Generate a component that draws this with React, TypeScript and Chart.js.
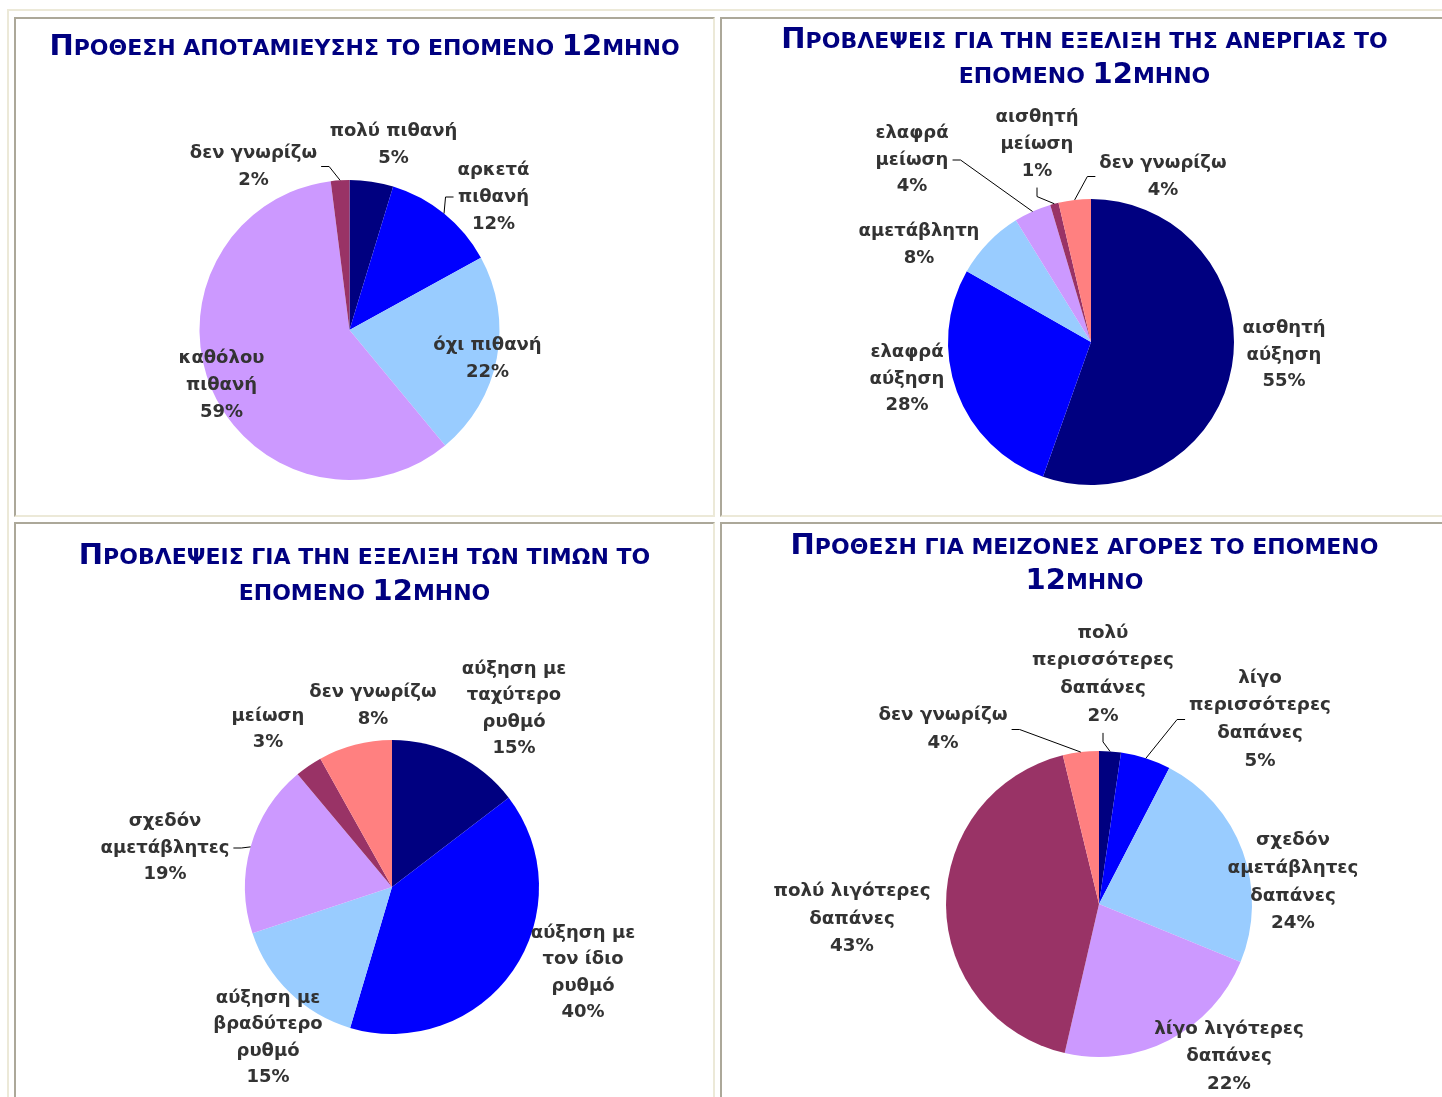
import React, { useEffect, useRef } from 'react';
import { Chart, registerables } from 'chart.js';

Chart.register(...registerables);

// ---------- palette ----------
const NAVY = '#000080';
const BLUE = '#0000FF';
const LIGHT_BLUE = '#99CCFF';
const LAVENDER = '#CC99FF';
const PLUM = '#993366';
const SALMON = '#FF8080';

// ---------- chart 1: saving intention ----------
const savingTitle = ['Προθεση αποταμιευσης το επομενο 12μηνο'];
const savingCategories = [['πολύ πιθανή'], ['αρκετά', 'πιθανή'], ['όχι πιθανή'], ['καθόλου', 'πιθανή'], ['δεν γνωρίζω']];
const savingValues = [4.7, 12.3, 22, 59, 2];
const savingColors = [NAVY, BLUE, LIGHT_BLUE, LAVENDER, PLUM];

// ---------- chart 2: unemployment ----------
const unemploymentTitle = ['Προβλεψεις για την εξελιξη της ανεργιας το', 'επομενο 12μηνο'];
const unemploymentCategories = [['αισθητή', 'αύξηση'], ['ελαφρά', 'αύξηση'], ['αμετάβλητη'], ['ελαφρά', 'μείωση'], ['αισθητή', 'μείωση'], ['δεν γνωρίζω']];
const unemploymentValues = [55.45, 27.8, 7.95, 4.2, 0.95, 3.65];
const unemploymentColors = [NAVY, BLUE, LIGHT_BLUE, LAVENDER, PLUM, SALMON];

// ---------- chart 3: prices ----------
const pricesTitle = ['Προβλεψεις για την εξελιξη των τιμων το', 'επομενο 12μηνο'];
const pricesCategories = [['αύξηση με', 'ταχύτερο', 'ρυθμό'], ['αύξηση με', 'τον ίδιο', 'ρυθμό'], ['αύξηση με', 'βραδύτερο', 'ρυθμό'], ['σχεδόν', 'αμετάβλητες'], ['μείωση'], ['δεν γνωρίζω']];
const pricesValues = [14.6, 40, 15.3, 19, 3, 8.1];
const pricesColors = [NAVY, BLUE, LIGHT_BLUE, LAVENDER, PLUM, SALMON];

// ---------- chart 4: major purchases ----------
const purchasesTitle = ['Προθεση για μειζονες αγορες το επομενο', '12μηνο'];
const purchasesCategories = [['πολύ', 'περισσότερες', 'δαπάνες'], ['λίγο', 'περισσότερες', 'δαπάνες'], ['σχεδόν', 'αμετάβλητες', 'δαπάνες'], ['λίγο λιγότερες', 'δαπάνες'], ['πολύ λιγότερες', 'δαπάνες'], ['δεν γνωρίζω']];
const purchasesValues = [2.3, 5.3, 23.6, 22.4, 42.6, 3.8];
const purchasesColors = [NAVY, BLUE, LIGHT_BLUE, LAVENDER, PLUM, SALMON];

// ---------- layout (page coordinates) ----------
type Spec = {
  panel: { x: number; y: number; w: number; h: number };
  title: string[];
  titleBaselines: number[];
  center: [number, number];
  radius: number;
  categories: string[][];
  values: number[];
  colors: string[];
  labelOffsets: [number, number][];
  leaders: boolean[];
  labelFont: number;
  lineHeight: number;
};

const SPECS: Spec[] = [
  {
    panel: { x: 14, y: 17, w: 701, h: 500 },
    title: savingTitle,
    titleBaselines: [55],
    center: [349.5, 330],
    radius: 150,
    categories: savingCategories,
    values: savingValues,
    colors: savingColors,
    labelOffsets: [[44, -185.5], [144, -133], [138, 28.5], [-128, 55], [-96, -163.5]],
    leaders: [false, true, false, false, true],
    labelFont: 18,
    lineHeight: 27,
  },
  {
    panel: { x: 720, y: 17, w: 729, h: 500 },
    title: unemploymentTitle,
    titleBaselines: [48, 83],
    center: [1091, 342],
    radius: 143,
    categories: unemploymentCategories,
    values: unemploymentValues,
    colors: unemploymentColors,
    labelOffsets: [[193, 13], [-184, 37], [-172, -97], [-179, -182], [-54, -197.5], [72, -165.5]],
    leaders: [false, false, false, true, true, true],
    labelFont: 18,
    lineHeight: 26.7,
  },
  {
    panel: { x: 14, y: 522, w: 701, h: 600 },
    title: pricesTitle,
    titleBaselines: [564, 600],
    center: [392, 887],
    radius: 147,
    categories: pricesCategories,
    values: pricesValues,
    colors: pricesColors,
    labelOffsets: [[122, -178], [191, 86], [-124, 151], [-227, -39], [-124, -157.5], [-19, -181]],
    leaders: [false, false, false, true, false, false],
    labelFont: 18,
    lineHeight: 26.5,
  },
  {
    panel: { x: 720, y: 522, w: 729, h: 600 },
    title: purchasesTitle,
    titleBaselines: [554, 589],
    center: [1099, 904],
    radius: 153,
    categories: purchasesCategories,
    values: purchasesValues,
    colors: purchasesColors,
    labelOffsets: [[4, -229.5], [161, -184.5], [194, -22], [130, 152.5], [-247, 15], [-156, -174.5]],
    leaders: [true, true, false, false, false, true],
    labelFont: 18.3,
    lineHeight: 27.7,
  },
];

const FONT = '"DejaVu Sans", Verdana, sans-serif';
const TITLE_BIG = 29;
const TITLE_SMALL = 22;

function makeTitlePlugin(spec: Spec) {
  return {
    id: 'capsTitle',
    afterDraw(chart: any) {
      const ctx: CanvasRenderingContext2D = chart.ctx;
      const centerX = chart.width / 2;
      ctx.save();
      ctx.fillStyle = NAVY;
      ctx.textBaseline = 'alphabetic';
      ctx.textAlign = 'left';
      spec.title.forEach((line, li) => {
        const runs: { text: string; big: boolean }[] = [];
        for (const ch of line) {
          const big = /[0-9]/.test(ch) || ch !== ch.toLowerCase();
          const t = ch.toUpperCase();
          const last = runs[runs.length - 1];
          if (last && last.big === big) last.text += t;
          else runs.push({ text: t, big });
        }
        const fontOf = (big: boolean) => `bold ${big ? TITLE_BIG : TITLE_SMALL}px ${FONT}`;
        let total = 0;
        const widths = runs.map((r) => {
          ctx.font = fontOf(r.big);
          const w = ctx.measureText(r.text).width;
          total += w;
          return w;
        });
        let x = centerX - total / 2;
        const y = spec.titleBaselines[li] - spec.panel.y;
        runs.forEach((r, k) => {
          ctx.font = fontOf(r.big);
          ctx.fillText(r.text, x, y);
          x += widths[k];
        });
      });
      ctx.restore();
    },
  };
}

function makeLabelPlugin(spec: Spec) {
  return {
    id: 'sliceLabels',
    afterDatasetsDraw(chart: any) {
      const ctx: CanvasRenderingContext2D = chart.ctx;
      const meta = chart.getDatasetMeta(0);
      const data: number[] = chart.data.datasets[0].data;
      const total = data.reduce((a, b) => a + b, 0);
      ctx.save();
      ctx.font = `bold ${spec.labelFont}px ${FONT}`;
      ctx.textAlign = 'center';
      ctx.textBaseline = 'middle';
      const lh = spec.lineHeight;
      meta.data.forEach((arc: any, i: number) => {
        const p = arc.getProps(['x', 'y', 'startAngle', 'endAngle', 'outerRadius'], true);
        const lines = [...(chart.data.labels[i] as string[]), `${Math.round((data[i] / total) * 100)}%`];
        const [ox, oy] = spec.labelOffsets[i];
        const cx = p.x + ox;
        const cy = p.y + oy;
        const h = lines.length * lh;
        const w = Math.max(...lines.map((l) => ctx.measureText(l).width));
        ctx.fillStyle = '#333333';
        lines.forEach((l, k) => ctx.fillText(l, cx, cy - h / 2 + lh * (k + 0.5)));
        if (spec.leaders[i]) {
          const mid = (p.startAngle + p.endAngle) / 2;
          const px = p.x + Math.cos(mid) * p.outerRadius;
          const py = p.y + Math.sin(mid) * p.outerRadius;
          const left = cx - w / 2;
          const right = cx + w / 2;
          const bottom = cy + h / 2;
          let s: [number, number];
          let e: [number, number];
          if (px > left && px < right && py > bottom) {
            s = [cx, bottom + 3];
            e = [cx, Math.min(bottom + 12, py)];
          } else if (px >= right) {
            s = [right + 4, cy];
            e = [right + 12, cy];
          } else {
            s = [left - 4, cy];
            e = [left - 12, cy];
          }
          ctx.strokeStyle = '#000000';
          ctx.lineWidth = 1;
          ctx.beginPath();
          ctx.moveTo(s[0], s[1]);
          ctx.lineTo(e[0], e[1]);
          ctx.lineTo(px, py);
          ctx.stroke();
        }
      });
      ctx.restore();
    },
  };
}

function PiePanel({ spec }: { spec: Spec }) {
  const ref = useRef<HTMLCanvasElement>(null);
  const { panel } = spec;
  useEffect(() => {
    const canvas = ref.current;
    if (!canvas) return;
    const cx = spec.center[0] - panel.x;
    const cy = spec.center[1] - panel.y;
    const r = spec.radius;
    const chart = new Chart(canvas, {
      type: 'pie',
      data: {
        labels: spec.categories as any,
        datasets: [
          {
            data: spec.values,
            backgroundColor: spec.colors,
            borderWidth: 0,
            hoverOffset: 0,
            offset: 0,
            radius: r,
          } as any,
        ],
      },
      options: {
        responsive: false,
        animation: false,
        devicePixelRatio: 1,
        events: [],
        layout: {
          padding: {
            left: cx - r,
            top: cy - r,
            right: panel.w - cx - r,
            bottom: panel.h - cy - r,
          },
        },
        plugins: {
          legend: { display: false },
          tooltip: { enabled: false },
          title: { display: false },
        },
      } as any,
      plugins: [makeTitlePlugin(spec), makeLabelPlugin(spec)] as any,
    });
    return () => chart.destroy();
  }, [spec]);

  return (
    <>
      <div
        style={{
          position: 'absolute',
          left: panel.x,
          top: panel.y,
          width: panel.w,
          height: panel.h,
          boxSizing: 'border-box',
          borderTop: '2px solid #aca899',
          borderLeft: '2px solid #aca899',
          borderRight: '2px solid #ece9d8',
          borderBottom: '2px solid #ece9d8',
          background: '#ffffff',
        }}
      />
      <canvas
        ref={ref}
        width={panel.w}
        height={panel.h}
        style={{ position: 'absolute', left: panel.x, top: panel.y, width: panel.w, height: panel.h }}
      />
    </>
  );
}

export default function App() {
  return (
    <div
      style={{
        position: 'absolute',
        left: 0,
        top: 0,
        width: 1442,
        height: 1097,
        overflow: 'hidden',
        background: '#ffffff',
      }}
    >
      <div
        style={{
          position: 'absolute',
          left: 7,
          top: 9,
          width: 2000,
          height: 2000,
          boxSizing: 'border-box',
          borderTop: '2px solid #ece9d8',
          borderLeft: '2px solid #ece9d8',
        }}
      />
      {SPECS.map((s, i) => (
        <PiePanel key={i} spec={s} />
      ))}
    </div>
  );
}
